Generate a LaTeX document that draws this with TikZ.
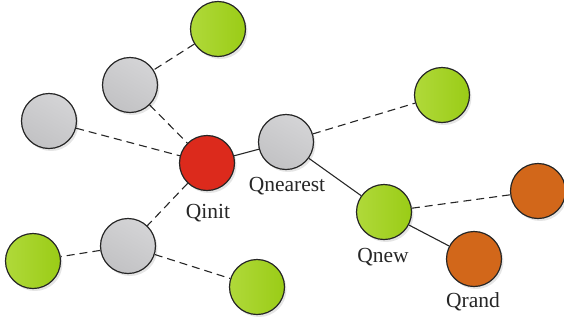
\documentclass[tikz,border=0pt]{standalone}
\usepackage{fontspec}
\setmainfont{Liberation Serif}
\usetikzlibrary{shadows}
\definecolor{grnL}{HTML}{B0D93A}
\definecolor{grnR}{HTML}{9ACC16}
\definecolor{gryL}{HTML}{D4D4D6}
\definecolor{gryR}{HTML}{C2C2C4}
\definecolor{redF}{HTML}{DC2A1C}
\definecolor{orgF}{HTML}{D2671A}
\tikzset{
  ball/.style={circle, draw=black!85, line width=1.2pt, minimum size=55pt, inner sep=0pt,
    drop shadow={shadow xshift=2pt, shadow yshift=-2.5pt, fill=black!20, opacity=0.5}},
  greenball/.style={ball, left color=grnL, right color=grnR},
  grayball/.style={ball, top color=gryL, bottom color=gryR, shading angle=-30},
  redball/.style={ball, fill=redF},
  orangeball/.style={ball, fill=orgF},
  lbl/.style={font=\fontsize{21.5}{23}\selectfont, text=black!85, inner sep=0pt},
  dashlink/.style={draw=black!85, line width=1.1pt, dash pattern=on 8pt off 5pt},
  solidlink/.style={draw=black!85, line width=1.1pt}
}
\begin{document}
\begin{tikzpicture}[x=1pt,y=-1pt]
\useasboundingbox (0,0) rectangle (564,322);
\node[greenball] (gtop) at (218,29) {};
\node[grayball] (gup) at (130,85) {};
\node[grayball] (gleft) at (49,121) {};
\node[redball] (init) at (207,163) {};
\node[grayball] (near) at (286,142) {};
\node[greenball] (gright) at (442,95) {};
\node[greenball] (new) at (384,212) {};
\node[orangeball] (oright) at (538,191) {};
\node[orangeball] (rand) at (474,259) {};
\node[grayball] (glow) at (128,246) {};
\node[greenball] (gll) at (33,261) {};
\node[greenball] (gbot) at (257,287) {};

\node[lbl] (tinit) at (208,213) {Qinit};
\node[lbl] (tnear) at (287,186) {Qnearest};
\node[lbl] (tnew) at (383,257) {Qnew};
\node[lbl] (trand) at (473,302) {Qrand};

\path[dashlink] (gtop) -- (gup);
\path[dashlink] (gup) -- (init);
\path[dashlink] (gleft) -- (init);
\path[dashlink] (init) -- (glow);
\path[dashlink] (glow) -- (gll);
\path[dashlink] (glow) -- (gbot);
\path[dashlink] (near) -- (gright);
\path[dashlink] (new) -- (oright);
\path[solidlink] (init) -- (near);
\path[solidlink] (near) -- (new);
\path[solidlink] (new) -- (rand);
\end{tikzpicture}
\end{document}
